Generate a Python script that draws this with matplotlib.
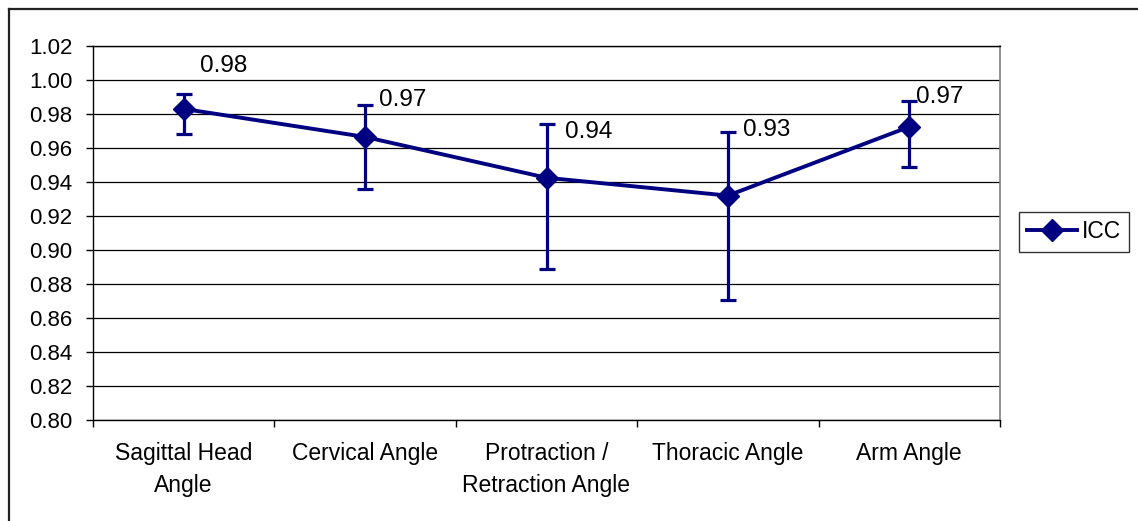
import matplotlib
matplotlib.use('Agg')
import matplotlib.pyplot as plt
from matplotlib.lines import Line2D

plt.rcParams['font.family'] = ['Liberation Sans', 'DejaVu Sans']

# Data
categories = ['Sagittal Head\nAngle', 'Cervical Angle', 'Protraction /\nRetraction Angle',
              'Thoracic Angle', 'Arm Angle']
icc = [0.983, 0.9665, 0.9425, 0.932, 0.9725]
ci_upper = [0.9915, 0.9855, 0.974, 0.9695, 0.9875]
ci_lower = [0.968, 0.936, 0.889, 0.8705, 0.949]
value_labels = ['0.98', '0.97', '0.94', '0.93', '0.97']
y_ticks = [0.80, 0.82, 0.84, 0.86, 0.88, 0.90, 0.92, 0.94, 0.96, 0.98, 1.00, 1.02]

# label offsets in pixels (manual placement like the original)
label_offsets = [(16, 43), (14, 37), (19, 46), (15, 66), (7, 30)]

W, H = 1138, 521
navy = '#000080'

fig = plt.figure(figsize=(W / 100, H / 100), dpi=100)
fig.patch.set_facecolor('white')

# outer chart frame (only top and left visible)
fig.add_artist(Line2D([9 / W, 9 / W], [0, 1 - 9 / H], color='#222222', lw=1.6,
                      transform=fig.transFigure))
fig.add_artist(Line2D([9 / W, 1], [1 - 9 / H, 1 - 9 / H], color='#222222', lw=1.6,
                      transform=fig.transFigure))

left, right, top, bottom = 93, 1000, 46, 420
ax = fig.add_axes([left / W, 1 - bottom / H, (right - left) / W, (bottom - top) / H])

x = list(range(len(categories)))
yerr = [[v - lo for v, lo in zip(icc, ci_lower)], [hi - v for v, hi in zip(icc, ci_upper)]]
ax.errorbar(x, icc, yerr=yerr, fmt='none', ecolor=navy, elinewidth=2.3,
            capsize=6, capthick=2.3, zorder=3)
line, = ax.plot(x, icc, color=navy, lw=2.8, marker='D', markersize=11,
                label='ICC', zorder=4)

for xi, v, lab, (dx, dy) in zip(x, icc, value_labels, label_offsets):
    ax.annotate(lab, (xi, v), xytext=(dx, dy), textcoords='offset pixels',
                ha='left', va='center', fontsize=17.5, color='black')

ax.set_xlim(-0.5, len(categories) - 0.5)
ax.set_ylim(0.80, 1.02)
ax.set_yticks(y_ticks)
ax.set_yticklabels([f'{t:.2f}' for t in y_ticks], fontsize=16)
ax.set_xticks(x)
ax.set_xticklabels(categories, fontsize=16.5, linespacing=1.5)
ax.set_xticks([i - 0.5 for i in range(len(categories) + 1)], minor=True)
ax.tick_params(axis='x', which='major', length=0, pad=16)
ax.tick_params(axis='x', which='minor', length=5, width=1, direction='out')
ax.tick_params(axis='y', length=5, width=1, direction='out', pad=10)

ax.grid(axis='y', color='black', lw=0.9)
ax.set_axisbelow(True)
for side in ['left', 'bottom', 'top']:
    ax.spines[side].set_color('black')
    ax.spines[side].set_linewidth(1)
ax.spines['right'].set_color('#808080')
ax.spines['right'].set_linewidth(1.2)

leg = ax.legend(handles=[line], loc='center left', bbox_to_anchor=(1019 / W, 1 - 232 / H),
                bbox_transform=fig.transFigure, fontsize=16.5, frameon=True,
                fancybox=False, edgecolor='black', handlelength=2.2, handletextpad=0.2,
                borderpad=0.35, borderaxespad=0)
leg.get_frame().set_linewidth(1)

fig.savefig('out.png', dpi=100)
